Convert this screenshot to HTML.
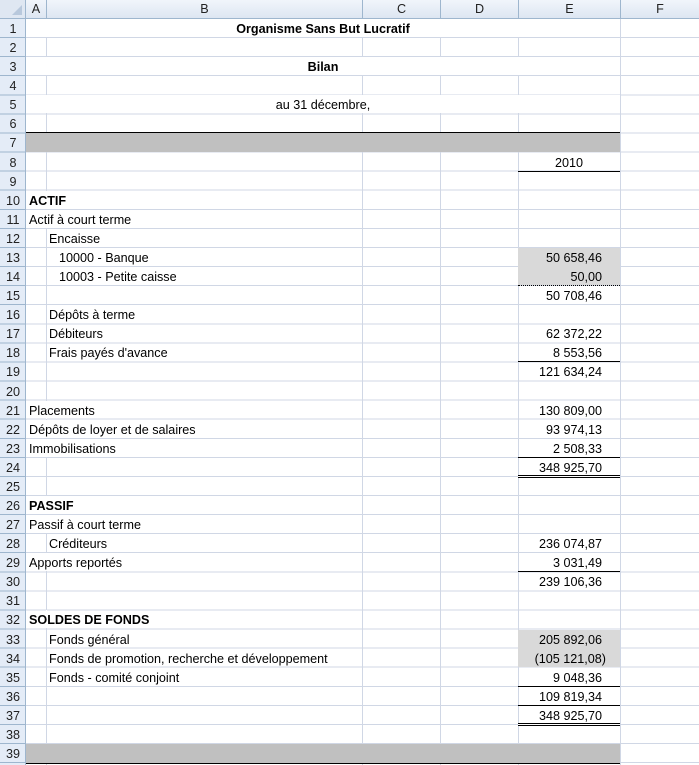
<!DOCTYPE html>
<html><head><meta charset="utf-8"><style>
*{margin:0;padding:0;box-sizing:border-box}
body{width:699px;height:765px;overflow:hidden;background:#fff;position:relative;font-family:"Liberation Sans",Arial,sans-serif;font-size:12.6px;color:#000}
.grid{position:absolute;left:26px;top:19px;width:673px;height:746px;background:repeating-linear-gradient(to bottom,transparent 0,transparent 18.08px,#d0d7e5 18.08px,#d0d7e5 19.08px)}
.rh{position:absolute;left:0;top:19px;width:26px;height:746px;background:repeating-linear-gradient(to bottom,#e4ecf7 0,#e4ecf7 18.08px,#9eb6ce 18.08px,#9eb6ce 19.08px);border-right:1px solid #9eb6ce}
.ch{position:absolute;left:0;top:0;width:699px;height:19px;background:linear-gradient(#f1f5fb,#dde6f2);border-bottom:1px solid #9eb6ce}
.chd{position:absolute;top:0;height:18px;line-height:18px;text-align:center;color:#222;border-right:1px solid #9eb6ce}
.vl{position:absolute;top:19px;width:1px;height:746px;background:#d0d7e5}
.r{position:absolute;top:calc(19px + (var(--r) - 1) * 19.08px);height:18px;line-height:20px;white-space:nowrap}
.n{left:0;width:26px;text-align:center;color:#222}
.w{background:#fff}
.num{left:518px;width:84px;text-align:right}
.bl{position:absolute;left:518px;width:102px;height:1px;background:#000;top:calc(19px + var(--r) * 19.08px - 1px)}
.db{position:absolute;left:518px;width:102px;height:3px;border-top:1px solid #000;border-bottom:1px solid #000;background:#fff;top:calc(19px + var(--r) * 19.08px - 2px)}
.g{background:#d9d9d9}
</style></head><body>
<div class="grid"></div>
<div class="vl" style="left:46px"></div>
<div class="vl" style="left:362px"></div>
<div class="vl" style="left:440px"></div>
<div class="vl" style="left:518px"></div>
<div class="vl" style="left:620px"></div>
<div class="rh"></div>
<div class="ch">
<div class="chd" style="left:0;width:26px;background:#dfe7f2"><span style="position:absolute;right:3px;bottom:3px;width:0;height:0;border-left:10px solid transparent;border-bottom:10px solid #b8c8dc"></span></div>
<div class="chd" style="left:26px;width:21px">A</div>
<div class="chd" style="left:47px;width:316px">B</div>
<div class="chd" style="left:363px;width:78px">C</div>
<div class="chd" style="left:441px;width:78px">D</div>
<div class="chd" style="left:519px;width:102px">E</div>
<div class="chd" style="left:621px;width:78px;border-right:none">F</div>
</div>

<div class="r w" style="--r:1;left:26px;width:594px"></div>
<div class="r w" style="--r:3;left:26px;width:594px"></div>
<div class="r w" style="--r:5;left:26px;width:594px"></div>
<div class="r" style="--r:7;left:26px;width:594px;background:#c0c0c0;border-top:1px solid #000;top:calc(19px + 6 * 19.08px - 1px);height:20px"></div>
<div class="r" style="--r:39;left:26px;width:594px;background:#c0c0c0;border-bottom:1px solid #000;height:20px"></div>
<div class="r w" style="--r:10;left:46px;width:1px"></div>
<div class="r w" style="--r:11;left:46px;width:1px"></div>
<div class="r w" style="--r:21;left:46px;width:1px"></div>
<div class="r w" style="--r:22;left:46px;width:1px"></div>
<div class="r w" style="--r:23;left:46px;width:1px"></div>
<div class="r w" style="--r:26;left:46px;width:1px"></div>
<div class="r w" style="--r:27;left:46px;width:1px"></div>
<div class="r w" style="--r:29;left:46px;width:1px"></div>
<div class="r w" style="--r:32;left:46px;width:1px"></div>

<div class="r g" style="--r:13;left:518px;width:102px;height:19px"></div>
<div class="r g" style="--r:14;left:518px;width:102px"></div>
<div class="r g" style="--r:33;left:518px;width:102px;height:19px"></div>
<div class="r g" style="--r:34;left:518px;width:102px"></div>

<div class="r n" style="--r:1">1</div><div class="r n" style="--r:2">2</div><div class="r n" style="--r:3">3</div><div class="r n" style="--r:4">4</div><div class="r n" style="--r:5">5</div><div class="r n" style="--r:6">6</div><div class="r n" style="--r:7">7</div><div class="r n" style="--r:8">8</div><div class="r n" style="--r:9">9</div><div class="r n" style="--r:10">10</div><div class="r n" style="--r:11">11</div><div class="r n" style="--r:12">12</div><div class="r n" style="--r:13">13</div><div class="r n" style="--r:14">14</div><div class="r n" style="--r:15">15</div><div class="r n" style="--r:16">16</div><div class="r n" style="--r:17">17</div><div class="r n" style="--r:18">18</div><div class="r n" style="--r:19">19</div><div class="r n" style="--r:20">20</div><div class="r n" style="--r:21">21</div><div class="r n" style="--r:22">22</div><div class="r n" style="--r:23">23</div><div class="r n" style="--r:24">24</div><div class="r n" style="--r:25">25</div><div class="r n" style="--r:26">26</div><div class="r n" style="--r:27">27</div><div class="r n" style="--r:28">28</div><div class="r n" style="--r:29">29</div><div class="r n" style="--r:30">30</div><div class="r n" style="--r:31">31</div><div class="r n" style="--r:32">32</div><div class="r n" style="--r:33">33</div><div class="r n" style="--r:34">34</div><div class="r n" style="--r:35">35</div><div class="r n" style="--r:36">36</div><div class="r n" style="--r:37">37</div><div class="r n" style="--r:38">38</div><div class="r n" style="--r:39">39</div>

<div class="r" style="--r:1;left:26px;width:594px;text-align:center;font-weight:bold">Organisme Sans But Lucratif</div>
<div class="r" style="--r:3;left:26px;width:594px;text-align:center;font-weight:bold">Bilan</div>
<div class="r" style="--r:5;left:26px;width:594px;text-align:center">au 31 décembre,</div>
<div class="r" style="--r:8;left:518px;width:102px;text-align:center">2010</div>

<div class="r" style="--r:10;left:29px;font-weight:bold">ACTIF</div>
<div class="r" style="--r:11;left:29px">Actif à court terme</div>
<div class="r" style="--r:12;left:49px">Encaisse</div>
<div class="r" style="--r:13;left:59px">10000 - Banque</div>
<div class="r" style="--r:14;left:59px">10003 - Petite caisse</div>
<div class="r" style="--r:16;left:49px">Dépôts à terme</div>
<div class="r" style="--r:17;left:49px">Débiteurs</div>
<div class="r" style="--r:18;left:49px">Frais payés d'avance</div>
<div class="r" style="--r:21;left:29px">Placements</div>
<div class="r" style="--r:22;left:29px">Dépôts de loyer et de salaires</div>
<div class="r" style="--r:23;left:29px">Immobilisations</div>
<div class="r" style="--r:26;left:29px;font-weight:bold">PASSIF</div>
<div class="r" style="--r:27;left:29px">Passif à court terme</div>
<div class="r" style="--r:28;left:49px">Créditeurs</div>
<div class="r" style="--r:29;left:29px">Apports reportés</div>
<div class="r" style="--r:32;left:29px;font-weight:bold">SOLDES DE FONDS</div>
<div class="r" style="--r:33;left:49px">Fonds général</div>
<div class="r" style="--r:34;left:49px">Fonds de promotion, recherche et développement</div>
<div class="r" style="--r:35;left:49px">Fonds - comité conjoint</div>

<div class="r num" style="--r:13">50 658,46</div>
<div class="r num" style="--r:14">50,00</div>
<div class="r num" style="--r:15">50 708,46</div>
<div class="r num" style="--r:17">62 372,22</div>
<div class="r num" style="--r:18">8 553,56</div>
<div class="r num" style="--r:19">121 634,24</div>
<div class="r num" style="--r:21">130 809,00</div>
<div class="r num" style="--r:22">93 974,13</div>
<div class="r num" style="--r:23">2 508,33</div>
<div class="r num" style="--r:24">348 925,70</div>
<div class="r num" style="--r:28">236 074,87</div>
<div class="r num" style="--r:29">3 031,49</div>
<div class="r num" style="--r:30">239 106,36</div>
<div class="r num" style="--r:33">205 892,06</div>
<div class="r num" style="--r:34;width:88px">(105 121,08)</div>
<div class="r num" style="--r:35">9 048,36</div>
<div class="r num" style="--r:36">109 819,34</div>
<div class="r num" style="--r:37">348 925,70</div>

<div class="bl" style="--r:8"></div>
<div class="bl" style="--r:14;background:none;border-top:1px dotted #000"></div>
<div class="bl" style="--r:18"></div>
<div class="bl" style="--r:23"></div>
<div class="db" style="--r:24"></div>
<div class="bl" style="--r:29"></div>
<div class="bl" style="--r:35"></div>
<div class="bl" style="--r:36"></div>
<div class="db" style="--r:37"></div>
</body></html>
